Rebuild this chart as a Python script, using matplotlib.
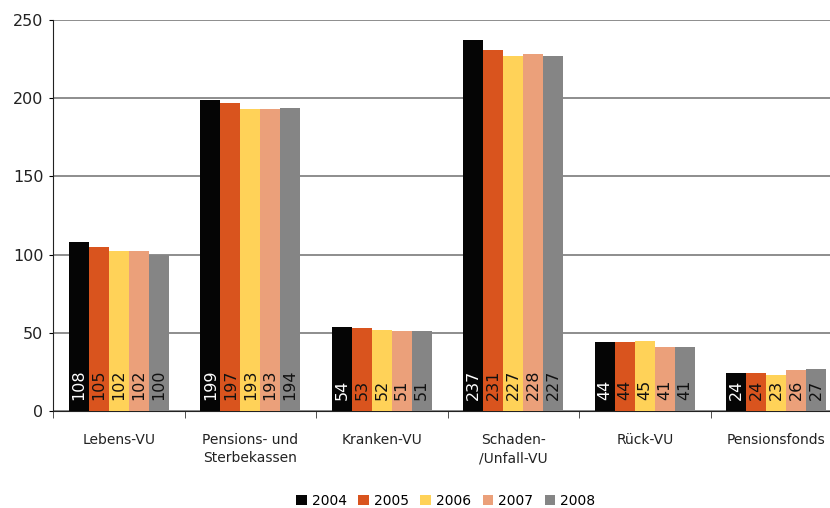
import numpy as np
import matplotlib.pyplot as plt
from matplotlib.ticker import FixedLocator

plt.rcParams["font.family"] = "DejaVu Sans"

categories = ["Lebens-VU", "Pensions- und\nSterbekassen", "Kranken-VU",
              "Schaden-\n/Unfall-VU", "Rück-VU", "Pensionsfonds"]
years = ["2004", "2005", "2006", "2007", "2008"]

v2004 = [108, 199, 54, 237, 44, 24]
v2005 = [105, 197, 53, 231, 44, 24]
v2006 = [102, 193, 52, 227, 45, 23]
v2007 = [102, 193, 51, 228, 41, 26]
v2008 = [100, 194, 51, 227, 41, 27]
series = [v2004, v2005, v2006, v2007, v2008]

COLORS = ["#050505", "#d9541e", "#ffd258", "#eba07a", "#858585"]
LABEL_COLORS = ["white", "#111111", "#111111", "#111111", "#111111"]

fig = plt.figure(figsize=(8.3, 5.08), dpi=100, facecolor="white")
ax = fig.add_axes([53 / 830, 1 - 411 / 508, 777 / 830, 391 / 508])

x = np.arange(len(categories))
width = 0.152
for i, (vals, year) in enumerate(zip(series, years)):
    pos = x + (i - 2) * width
    bars = ax.bar(pos, vals, width=width, color=COLORS[i], label=year, zorder=3)
    for bar, val in zip(bars, vals):
        ax.annotate(str(val), (bar.get_x() + bar.get_width() / 2, 0),
                    xytext=(0, 8), textcoords="offset points",
                    rotation=90, ha="center", va="bottom",
                    fontsize=11.5, color=LABEL_COLORS[i], zorder=4)

ax.set_ylim(0, 250)
ax.set_yticks(range(0, 251, 50))
ax.set_xlim(-0.5, -0.5 + 777 / 131.5)
ax.yaxis.grid(True, color="#858585", linewidth=1.3, zorder=0)
ax.set_axisbelow(True)

ax.set_xticks(x)
ax.set_xticklabels(categories, fontsize=10, color="#222222", va="top", linespacing=1.45)
ax.tick_params(axis="x", which="major", length=0, pad=15.5)
ax.xaxis.set_minor_locator(FixedLocator(np.arange(-0.5, 6.0, 1.0)))
ax.tick_params(axis="x", which="minor", length=5, direction="out", color="#333333")
ax.tick_params(axis="y", length=3, direction="out", labelsize=11.5, labelcolor="#222222", pad=4)

for side in ("top", "right"):
    ax.spines[side].set_visible(False)
ax.spines["left"].set_color("#222222")
ax.spines["bottom"].set_color("#222222")

fig.legend(loc="lower center", ncol=5, frameon=False, fontsize=10,
           bbox_to_anchor=(0.537, -0.025), handlelength=0.75, handleheight=0.75,
           handletextpad=0.35, columnspacing=0.85)

fig.savefig("out.png", dpi=100, facecolor="white")
